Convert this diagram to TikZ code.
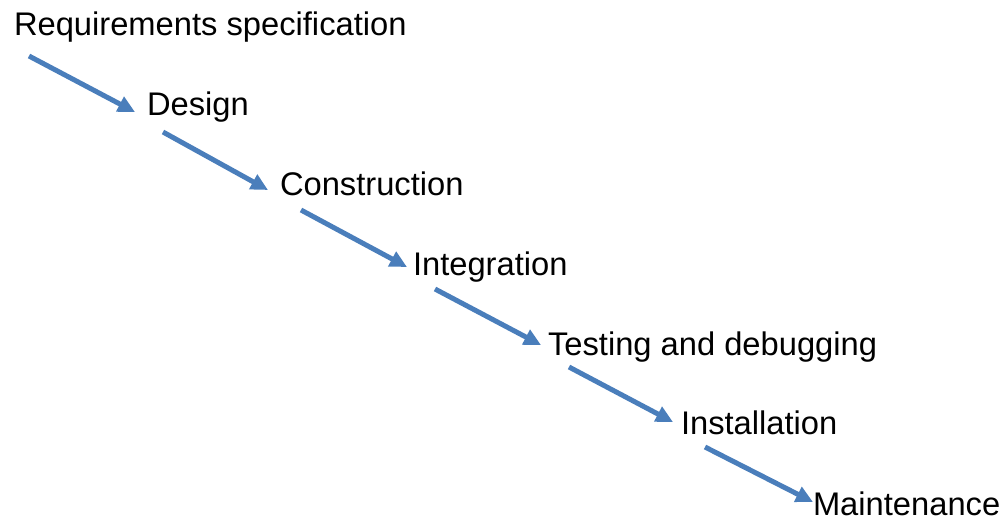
\documentclass[tikz,border=0pt]{standalone}
\usepackage{fontspec}
\setmainfont{Liberation Sans}
\usetikzlibrary{arrows.meta}
\definecolor{flowblue}{RGB}{74,126,187}
\begin{document}
\begin{tikzpicture}[x=1pt,y=-1pt,
  stage/.style={anchor=base west,inner sep=0pt,outer sep=0pt,
    font=\fontsize{32.7}{40}\selectfont},
  flow/.style={draw=flowblue,line width=5pt,
    -{Triangle[length=17pt,width=16pt]}}]
\useasboundingbox (0,0) rectangle (1004,520);
\node[stage] (req)  at (14,35)  {Requirements specification};
\node[stage] (des)  at (147,115) {Design};
\node[stage] (con)  at (280,195) {Construction};
\node[stage] (int)  at (413,275) {Integration};
\node[stage] (tst)  at (548,355) {Testing and debugging};
\node[stage] (ins)  at (681,434) {Installation};
\node[stage] (mnt)  at (813,515) {Maintenance};
% source/target, tail offset, tip offset (relative to base west)
\foreach \a/\b/\tx/\ty/\hx/\hy in {
    req/des/15/21/-12/-3,
    des/con/16/17/-12/-5,
    con/int/21/15/-6/-8,
    int/tst/22/14/-7/-10,
    tst/ins/21/12/-8/-12,
    ins/mnt/24/13/0/-13}
  \draw[flow] ([shift={(\tx,\ty)}]\a.base west) -- ([shift={(\hx,\hy)}]\b.base west);
\end{tikzpicture}
\end{document}
